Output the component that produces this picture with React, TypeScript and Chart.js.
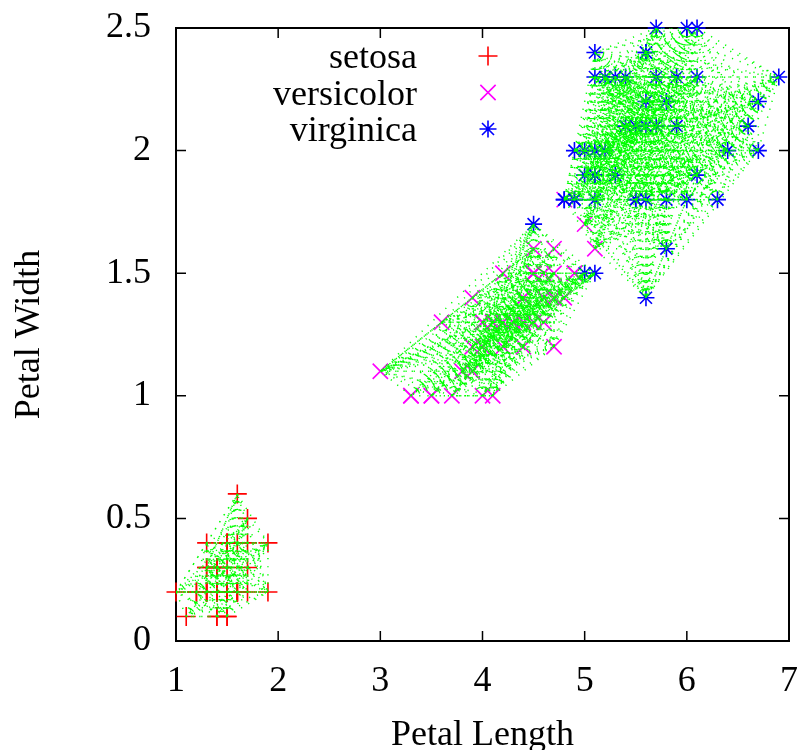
import React, { useEffect, useRef } from 'react';
import { Chart, registerables } from 'chart.js';

Chart.register(...registerables);

// ---- data (Iris petal measurements) ----
const setosaLength = [1.4,1.4,1.3,1.5,1.4,1.7,1.4,1.5,1.4,1.5, 1.5,1.6,1.4,1.1,1.2,1.5,1.3,1.4,1.7,1.5, 1.7,1.5,1.0,1.7,1.9,1.6,1.6,1.5,1.4,1.6, 1.6,1.5,1.5,1.4,1.5,1.2,1.3,1.4,1.3,1.5, 1.3,1.3,1.3,1.6,1.9,1.4,1.6,1.4,1.5,1.4];
const setosaWidth = [0.2,0.2,0.2,0.2,0.2,0.4,0.3,0.2,0.2,0.1, 0.2,0.2,0.1,0.1,0.2,0.4,0.4,0.3,0.3,0.3, 0.2,0.4,0.2,0.5,0.2,0.2,0.4,0.2,0.2,0.2, 0.2,0.4,0.1,0.2,0.2,0.2,0.2,0.1,0.2,0.2, 0.3,0.3,0.2,0.6,0.4,0.3,0.2,0.2,0.2,0.2];
const versicolorLength = [4.7,4.5,4.9,4.0,4.6,4.5,4.7,3.3,4.6,3.9, 3.5,4.2,4.0,4.7,3.6,4.4,4.5,4.1,4.5,3.9, 4.8,4.0,4.9,4.7,4.3,4.4,4.8,5.0,4.5,3.5, 3.8,3.7,3.9,5.1,4.5,4.5,4.7,4.4,4.1,4.0, 4.4,4.6,4.0,3.3,4.2,4.2,4.2,4.3,3.0,4.1];
const versicolorWidth = [1.4,1.5,1.5,1.3,1.5,1.3,1.6,1.0,1.3,1.4, 1.0,1.5,1.0,1.4,1.3,1.4,1.5,1.0,1.5,1.1, 1.8,1.3,1.5,1.2,1.3,1.4,1.4,1.7,1.5,1.0, 1.1,1.0,1.2,1.6,1.5,1.6,1.5,1.3,1.3,1.3, 1.2,1.4,1.2,1.0,1.3,1.2,1.3,1.3,1.1,1.3];
const virginicaLength = [6.0,5.1,5.9,5.6,5.8,6.6,4.5,6.3,5.8,6.1, 5.1,5.3,5.5,5.0,5.1,5.3,5.5,6.7,6.9,5.0, 5.7,4.9,6.7,4.9,5.7,6.0,4.8,4.9,5.6,5.8, 6.1,6.4,5.6,5.1,5.6,6.1,5.6,5.5,4.8,5.4, 5.6,5.1,5.1,5.9,5.7,5.2,5.0,5.2,5.4,5.1];
const virginicaWidth = [2.5,1.9,2.1,1.8,2.2,2.1,1.7,1.8,1.8,2.5, 2.0,1.9,2.1,2.0,2.4,2.3,1.8,2.2,2.3,1.5, 2.3,2.0,2.0,1.8,2.1,1.8,1.8,1.8,2.1,1.6, 1.9,2.0,2.2,1.5,1.4,2.3,2.4,1.8,1.8,2.1, 2.4,2.3,1.9,2.3,2.5,2.3,1.9,2.0,2.3,1.8];

// cluster membership differences from species (indices within species arrays)
const versicolorInCluster3 = [20, 27, 33];
const virginicaInCluster2 = [6, 19, 33];

const speciesNames = ['setosa', 'versicolor', 'virginica'];
const speciesColors = ['#ff0000', '#ff00ff', '#0000ff'];
const clusterLineColor = '#00ff00';

const xTickValues = [1, 2, 3, 4, 5, 6, 7];
const yTickValues = [0, 0.5, 1, 1.5, 2, 2.5];
const yTickLabels = ['0', '0.5', '1', '1.5', '2', '2.5'];

const FONT = "'Liberation Serif', 'Times New Roman', serif";

type P = { x: number; y: number };

function toPoints(xs: number[], ys: number[]): P[] {
  return xs.map((x, i) => ({ x, y: ys[i] }));
}

function pairSegments(pts: P[]): P[] {
  const seen = new Set<string>();
  const uniq: P[] = [];
  for (const p of pts) {
    const k = p.x + ',' + p.y;
    if (!seen.has(k)) { seen.add(k); uniq.push(p); }
  }
  const out: P[] = [];
  for (let i = 0; i < uniq.length; i++) {
    for (let j = i + 1; j < uniq.length; j++) {
      out.push(uniq[i], uniq[j], { x: NaN, y: NaN });
    }
  }
  return out;
}

const setosaPts = toPoints(setosaLength, setosaWidth);
const versicolorPts = toPoints(versicolorLength, versicolorWidth);
const virginicaPts = toPoints(virginicaLength, virginicaWidth);

const cluster1 = setosaPts;
const cluster2 = versicolorPts.filter((_, i) => !versicolorInCluster3.includes(i))
  .concat(virginicaPts.filter((_, i) => virginicaInCluster2.includes(i)));
const cluster3 = virginicaPts.filter((_, i) => !virginicaInCluster2.includes(i))
  .concat(versicolorPts.filter((_, i) => versicolorInCluster3.includes(i)));

const markerKinds = ['cross', 'crossRot', 'star'];
const markerRadii = [9.5, 10.8, 8.5];

function drawMarker(ctx: CanvasRenderingContext2D, kind: string, r: number, x: number, y: number) {
  ctx.beginPath();
  if (kind === 'cross' || kind === 'star') {
    ctx.moveTo(x - r, y); ctx.lineTo(x + r, y);
    ctx.moveTo(x, y - r); ctx.lineTo(x, y + r);
  }
  if (kind === 'crossRot' || kind === 'star') {
    const d = r * Math.SQRT1_2;
    ctx.moveTo(x - d, y - d); ctx.lineTo(x + d, y + d);
    ctx.moveTo(x + d, y - d); ctx.lineTo(x - d, y + d);
  }
  ctx.stroke();
}

const framePlugin = {
  id: 'gpFrame',
  beforeDatasetsDraw(chart: any) {
    const { ctx, chartArea: a, scales } = chart;
    ctx.save();
    ctx.strokeStyle = '#000';
    ctx.lineWidth = 2;
    ctx.strokeRect(a.left, a.top, a.right - a.left, a.bottom - a.top);
    ctx.lineWidth = 1.5;
    ctx.beginPath();
    const tl = 10;
    xTickValues.forEach((v) => {
      const px = scales.x.getPixelForValue(v);
      ctx.moveTo(px, a.bottom); ctx.lineTo(px, a.bottom - tl);
      ctx.moveTo(px, a.top); ctx.lineTo(px, a.top + tl);
    });
    yTickValues.forEach((v) => {
      const py = scales.y.getPixelForValue(v);
      ctx.moveTo(a.left, py); ctx.lineTo(a.left + tl, py);
      ctx.moveTo(a.right, py); ctx.lineTo(a.right - tl, py);
    });
    ctx.stroke();
    ctx.restore();
  },
};

const legendPlugin = {
  id: 'gpLegend',
  afterDraw(chart: any) {
    const { ctx, chartArea: a } = chart;
    ctx.save();
    ctx.font = `36px ${FONT}`;
    ctx.textAlign = 'right';
    ctx.textBaseline = 'alphabetic';
    speciesNames.forEach((name, i) => {
      const y = a.top + 28 + i * 36.5;
      ctx.fillStyle = '#000';
      ctx.fillText(name, a.left + 241, y + 12);
      ctx.strokeStyle = speciesColors[i];
      ctx.lineWidth = 1.6;
      drawMarker(ctx, markerKinds[i], markerRadii[i], a.left + 312, y);
    });
    ctx.restore();
  },
};

export default function App() {
  const ref = useRef<HTMLCanvasElement>(null);
  useEffect(() => {
    const canvas = ref.current!;
    const lineDs = (pts: P[]) => ({
      type: 'scatter' as const,
      data: pairSegments(pts),
      showLine: true,
      spanGaps: false,
      borderColor: clusterLineColor,
      borderWidth: 1.5,
      borderDash: [1.2, 7],
      pointRadius: 0,
      order: 0,
    });
    const pointDs = (pts: P[], i: number) => ({
      type: 'scatter' as const,
      label: speciesNames[i],
      data: pts,
      showLine: false,
      pointStyle: markerKinds[i],
      pointRadius: markerRadii[i],
      pointBorderColor: speciesColors[i],
      pointBackgroundColor: speciesColors[i],
      pointBorderWidth: 1.6,
      clip: false as any,
      order: 3 - i,
    });
    const chart = new Chart(canvas, {
      type: 'scatter',
      data: {
        datasets: [
          lineDs(cluster1), lineDs(cluster2), lineDs(cluster3),
          pointDs(setosaPts, 0), pointDs(versicolorPts, 1), pointDs(virginicaPts, 2),
        ] as any,
      },
      options: {
        animation: false,
        responsive: false,
        devicePixelRatio: 1,
        events: [],
        layout: { padding: { top: 28, right: 14, left: 0, bottom: 0 } },
        plugins: { legend: { display: false }, tooltip: { enabled: false } },
        scales: {
          x: {
            type: 'linear',
            min: 1,
            max: 7,
            grid: { display: false, drawTicks: false },
            border: { display: false },
            afterBuildTicks: (s: any) => { s.ticks = xTickValues.map((v) => ({ value: v })); },
            afterFit: (s: any) => {
              s.height = 109;
              s.paddingLeft = 0; s.paddingRight = 0; s.paddingTop = 0; s.paddingBottom = 0;
            },
            ticks: {
              color: '#000',
              font: { family: FONT, size: 36 },
              padding: 19,
              maxRotation: 0,
              callback: (v: any) => String(v),
            },
            title: {
              display: true,
              text: 'Petal Length',
              color: '#000',
              font: { family: FONT, size: 36, lineHeight: 1 },
              padding: { top: 0, bottom: -4 },
            },
          },
          y: {
            type: 'linear',
            min: 0,
            max: 2.5,
            grid: { display: false, drawTicks: false },
            border: { display: false },
            afterBuildTicks: (s: any) => { s.ticks = yTickValues.map((v) => ({ value: v })); },
            afterFit: (s: any) => {
              s.width = 176;
              s.paddingLeft = 0; s.paddingRight = 0; s.paddingTop = 0; s.paddingBottom = 0;
            },
            ticks: {
              color: '#000',
              font: { family: FONT, size: 36 },
              padding: 25,
              callback: (v: any) => yTickLabels[yTickValues.indexOf(Number(v))] ?? String(v),
            },
            title: {
              display: true,
              text: 'Petal Width',
              color: '#000',
              font: { family: FONT, size: 36, lineHeight: 1 },
              padding: { top: 12, bottom: 0 },
            },
          },
        },
      },
      plugins: [framePlugin, legendPlugin],
    } as any);
    return () => chart.destroy();
  }, []);
  return (
    <div style={{ position: 'absolute', left: 0, top: 0, width: 803, height: 750 }}>
      <canvas ref={ref} width={803} height={750} style={{ display: 'block' }} />
    </div>
  );
}
